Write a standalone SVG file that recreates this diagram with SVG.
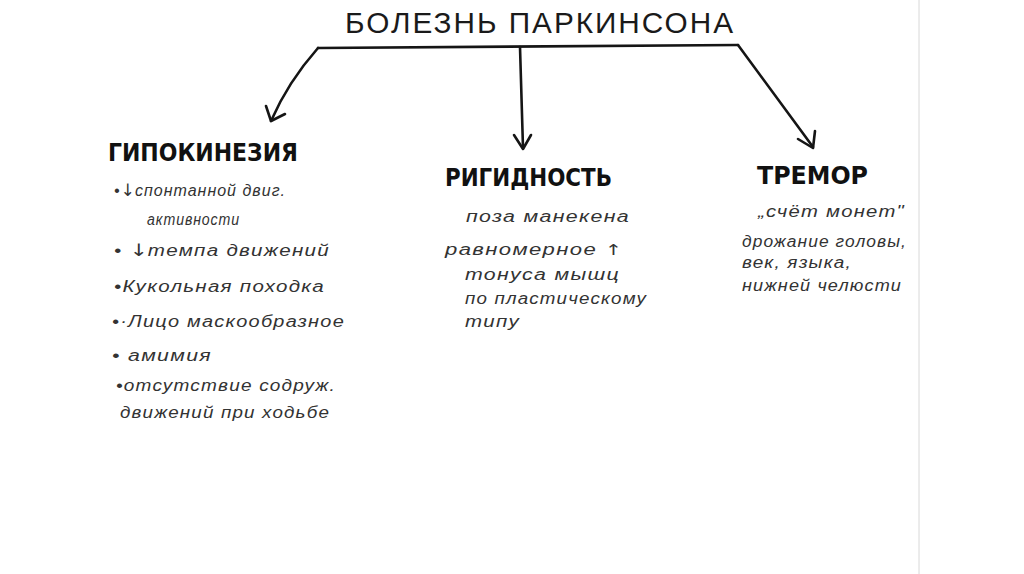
<svg xmlns="http://www.w3.org/2000/svg" width="1024" height="574" viewBox="0 0 1024 574">
<defs>
<style>
.title{font-family:"Liberation Sans",sans-serif;font-size:30px;fill:#1a1a1a;letter-spacing:2px}
.head{font-family:"DejaVu Sans",sans-serif;font-weight:bold;font-size:24px;fill:#111}
.item{font-family:"Liberation Sans",sans-serif;font-style:italic;font-size:16px;fill:#333;letter-spacing:1px}
.arr{font-family:"DejaVu Sans",sans-serif;font-style:normal;font-size:17px;letter-spacing:0}
.conn{fill:none;stroke:#151515;stroke-width:2.6;stroke-linecap:round;stroke-linejoin:round}
</style>
</defs>
<rect width="1024" height="574" fill="#ffffff"/>
<line x1="919" y1="0" x2="919" y2="574" stroke="#d8d8d8" stroke-width="1"/>
<g id="title"><text class="title" x="345" y="33" textLength="390" lengthAdjust="spacingAndGlyphs">БОЛЕЗНЬ ПАРКИНСОНА</text></g>
<g id="connectors">
<path class="conn" d="M318,48 L738,45"/>
<path class="conn" d="M318,48 Q288,82 271,121"/>
<path class="conn" d="M266,106 L271,121 L285,114"/>
<path class="conn" d="M520,47 L523,148"/>
<path class="conn" d="M514,135 L523,149 L531,135"/>
<path class="conn" d="M738,45 L813,147"/>
<path class="conn" d="M798,139 L813,148 L815,131"/>
</g>
<g id="hypokinesia">
<text class="head" x="108" y="161" textLength="190" lengthAdjust="spacingAndGlyphs">ГИПОКИНЕЗИЯ</text>
<text class="item" x="114" y="196" textLength="172" lengthAdjust="spacingAndGlyphs">•<tspan class="arr">↓</tspan>спонтанной двиг.</text>
<text class="item" x="147" y="225" textLength="93" lengthAdjust="spacingAndGlyphs">активности</text>
<text class="item" x="114" y="256" textLength="216" lengthAdjust="spacingAndGlyphs">• <tspan class="arr">↓</tspan>темпа движений</text>
<text class="item" x="114" y="292" textLength="211" lengthAdjust="spacingAndGlyphs">•Кукольная походка</text>
<text class="item" x="112" y="327" textLength="233" lengthAdjust="spacingAndGlyphs">•·Лицо маскообразное</text>
<text class="item" x="112" y="361" textLength="100" lengthAdjust="spacingAndGlyphs">• амимия</text>
<text class="item" x="116" y="391" textLength="220" lengthAdjust="spacingAndGlyphs">•отсутствие содруж.</text>
<text class="item" x="120" y="418" textLength="210" lengthAdjust="spacingAndGlyphs">движений при ходьбе</text>
</g>
<g id="rigidity">
<text class="head" x="445" y="186" textLength="167" lengthAdjust="spacingAndGlyphs">РИГИДНОСТЬ</text>
<text class="item" x="466" y="222" textLength="164" lengthAdjust="spacingAndGlyphs">поза манекена</text>
<text class="item" x="445" y="255" textLength="177" lengthAdjust="spacingAndGlyphs">равномерное <tspan class="arr" style="font-size:15px">↑</tspan></text>
<text class="item" x="465" y="280" textLength="155" lengthAdjust="spacingAndGlyphs">тонуса мышц</text>
<text class="item" x="465" y="304" textLength="182" lengthAdjust="spacingAndGlyphs">по пластическому</text>
<text class="item" x="465" y="327" textLength="55" lengthAdjust="spacingAndGlyphs">типу</text>
</g>
<g id="tremor">
<text class="head" x="757" y="184" textLength="111" lengthAdjust="spacingAndGlyphs">ТРЕМОР</text>
<text class="item" x="758" y="217" textLength="147" lengthAdjust="spacingAndGlyphs">„счёт монет"</text>
<text class="item" x="742" y="247" textLength="165" lengthAdjust="spacingAndGlyphs">дрожание головы,</text>
<text class="item" x="742" y="268" textLength="110" lengthAdjust="spacingAndGlyphs">век, языка,</text>
<text class="item" x="742" y="291" textLength="160" lengthAdjust="spacingAndGlyphs">нижней челюсти</text>
</g>
</svg>
